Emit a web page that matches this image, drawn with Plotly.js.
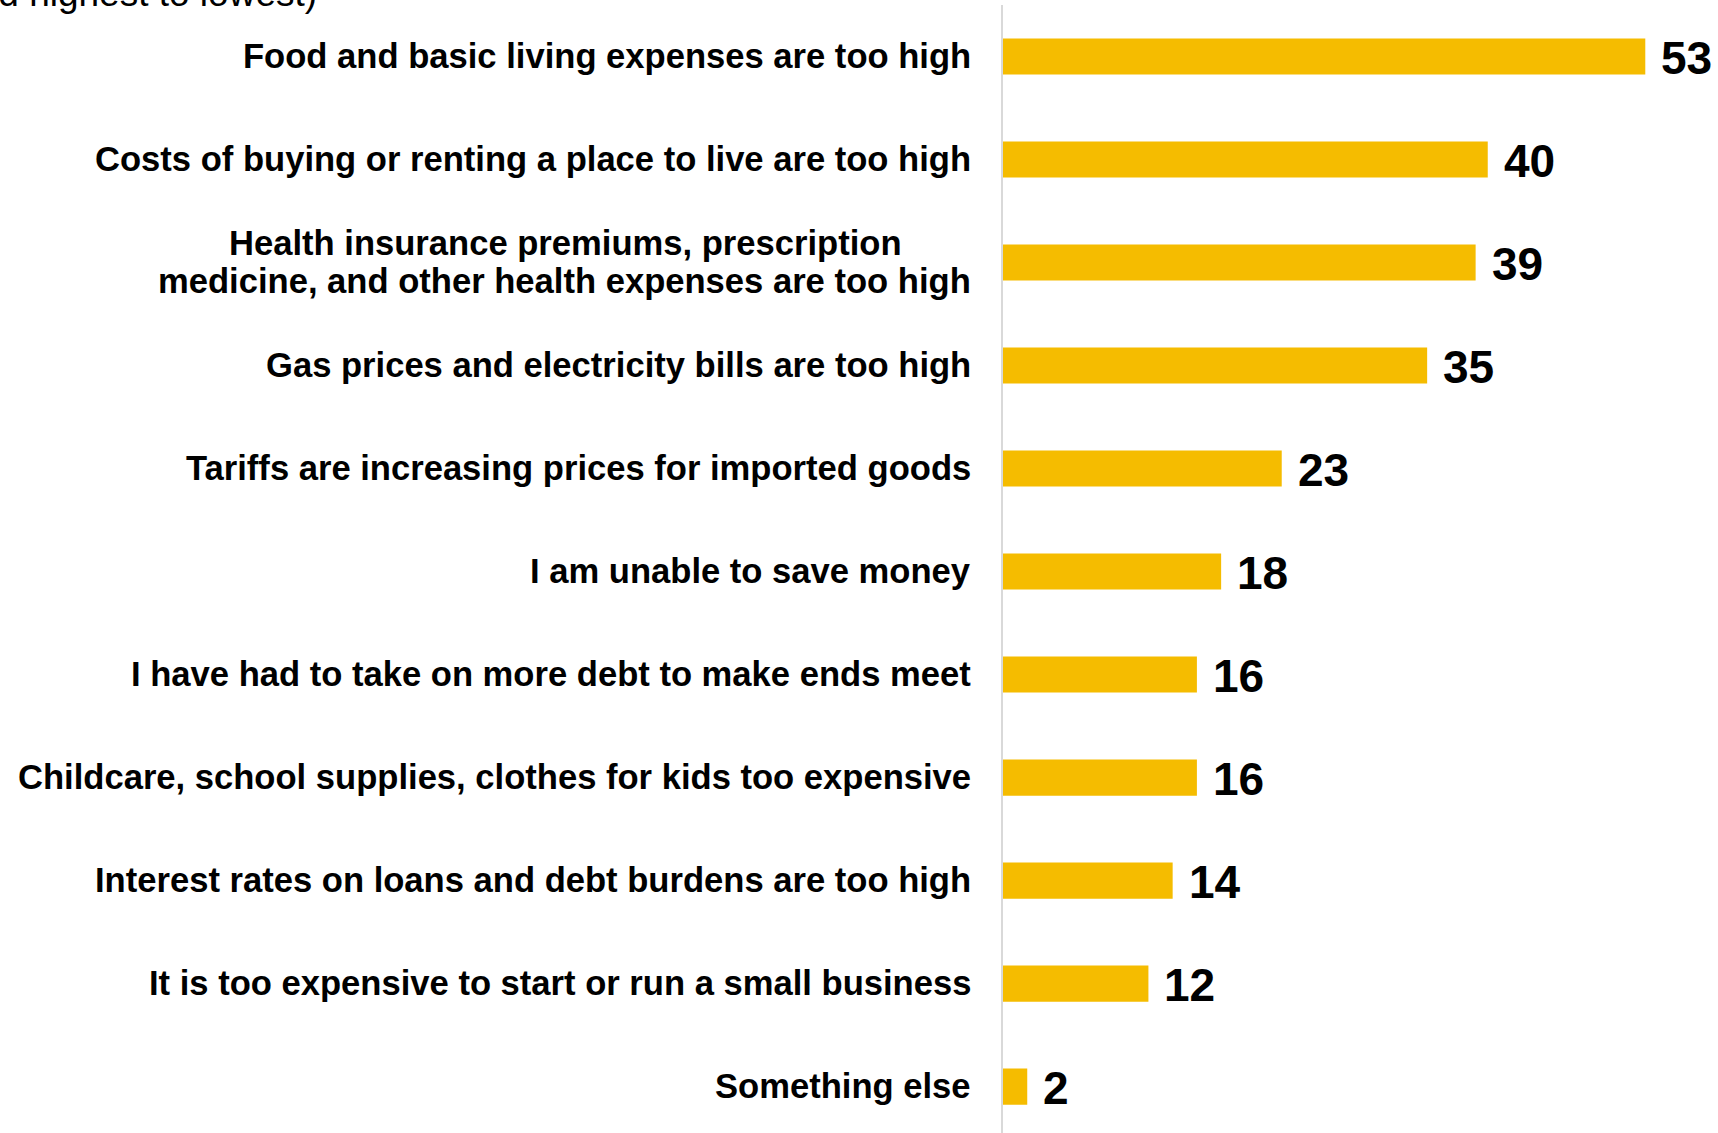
<!DOCTYPE html>
<html>
<head>
<meta charset="utf-8">
<script src="https://cdn.plot.ly/plotly-3.0.1.min.js"></script>
<style>
  html, body { margin: 0; padding: 0; background: #ffffff; }
  #chart { width: 1718px; height: 1133px; }
</style>
</head>
<body>
<div id="chart"></div>
<script>
// ---- data ----
const categories = [
  "Food and basic living expenses are too high",
  "Costs of buying or renting a place to live are too high",
  "Health insurance premiums, prescription|medicine, and other health expenses are too high",
  "Gas prices and electricity bills are too high",
  "Tariffs are increasing prices for imported goods",
  "I am unable to save money",
  "I have had to take on more debt to make ends meet",
  "Childcare, school supplies, clothes for kids too expensive",
  "Interest rates on loans and debt burdens are too high",
  "It is too expensive to start or run a small business",
  "Something else"
];
const values = [53, 40, 39, 35, 23, 18, 16, 16, 14, 12, 2];
const subtitleText = "(Ranked highest to lowest)";

// ---- style ----
const FONT = "Arial, 'Liberation Sans', sans-serif";
const LABEL_SIZE = 34.6;
const VALUE_SIZE = 46;
const BAR_COLOR = "#F5BC00";

const ctx = document.createElement("canvas").getContext("2d");
ctx.font = "bold " + LABEL_SIZE + "px Arial, 'Liberation Sans', sans-serif";

const ids = categories.map((c, i) => "c" + i);
const annotations = [];

categories.forEach((cat, i) => {
  const lines = cat.split("|");
  if (lines.length === 1) {
    annotations.push({
      xref: "x", yref: "y", x: 0, y: ids[i],
      xanchor: "right", yanchor: "middle", xshift: -30, yshift: 1,
      text: "<b>" + lines[0] + "</b>", showarrow: false,
      font: {family: FONT, size: LABEL_SIZE, color: "#000000"}
    });
  } else {
    const w2 = ctx.measureText(lines[1]).width;
    annotations.push({
      xref: "x", yref: "y", x: 0, y: ids[i],
      xanchor: "right", yanchor: "middle", xshift: -30, yshift: -18,
      text: "<b>" + lines[1] + "</b>", showarrow: false,
      font: {family: FONT, size: LABEL_SIZE, color: "#000000"}
    });
    annotations.push({
      xref: "x", yref: "y", x: 0, y: ids[i],
      xanchor: "center", yanchor: "middle", xshift: -30 - w2 / 2 - 1, yshift: 20,
      text: "<b>" + lines[0] + "</b>", showarrow: false,
      font: {family: FONT, size: LABEL_SIZE, color: "#000000"}
    });
  }
  annotations.push({
    xref: "x", yref: "y", x: values[i], y: ids[i],
    xanchor: "left", yanchor: "middle", xshift: 14, yshift: -1,
    text: "<b>" + values[i] + "</b>", showarrow: false,
    font: {family: FONT, size: VALUE_SIZE, color: "#000000"}
  });
});

annotations.push({
  xref: "paper", yref: "paper", x: 0, y: 1,
  xanchor: "right", yanchor: "middle", xshift: -684, yshift: 12,
  text: subtitleText, showarrow: false,
  font: {family: FONT, size: 37, color: "#000000"}
});

const trace = {
  type: "bar",
  orientation: "h",
  x: values,
  y: ids,
  marker: {color: BAR_COLOR},
  hoverinfo: "x",
  cliponaxis: false
};

const layout = {
  width: 1718,
  height: 1133,
  margin: {l: 1003, r: 0, t: 5, b: 0, pad: 0},
  paper_bgcolor: "#ffffff",
  plot_bgcolor: "#ffffff",
  showlegend: false,
  bargap: 0.65,
  font: {family: FONT, color: "#000000"},
  xaxis: {
    range: [0, 59],
    showgrid: false, zeroline: false, showline: false,
    showticklabels: false, ticks: "", fixedrange: true
  },
  yaxis: {
    type: "category",
    range: [10.45, -0.5],
    showgrid: false, zeroline: false,
    showline: true, linecolor: "#D9D9D9", linewidth: 2,
    showticklabels: false, ticks: "", fixedrange: true
  },
  annotations: annotations
};

Plotly.newPlot("chart", [trace], layout, {displayModeBar: false, staticPlot: true});
</script>
</body>
</html>
